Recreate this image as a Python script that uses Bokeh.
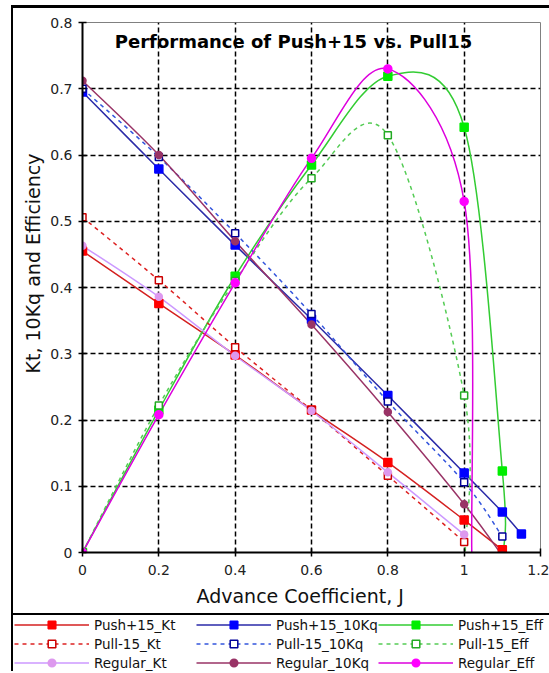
import numpy as np
from bokeh.plotting import figure
from bokeh.layouts import column
from bokeh.models import Range1d, FixedTicker, Label, Legend, LegendItem, Title
from bokeh.embed import file_html
from bokeh.resources import INLINE

# ---------------- data ----------------
x_ticks = [0, 0.2, 0.4, 0.6, 0.8, 1.0, 1.2]
y_ticks = [0, 0.1, 0.2, 0.3, 0.4, 0.5, 0.6, 0.7, 0.8]

push_kt_J = [0.0, 0.2, 0.4, 0.6, 0.8, 1.0, 1.1]
push_kt = [0.455, 0.376, 0.298, 0.215, 0.136, 0.049, 0.004]
pull_kt_J = [0.0, 0.2, 0.4, 0.6, 0.8, 1.0]
pull_kt = [0.506, 0.411, 0.310, 0.215, 0.116, 0.016]
regular_kt_J = [0.0, 0.2, 0.4, 0.6, 0.8, 1.0]
regular_kt = [0.463, 0.386, 0.297, 0.214, 0.121, 0.027]

push_kq_J = [0.0, 0.2, 0.4, 0.6, 0.8, 1.0, 1.1, 1.15]
push_kq = [0.695, 0.579, 0.464, 0.352, 0.237, 0.120, 0.061, 0.028]
pull_kq_J = [0.0, 0.2, 0.4, 0.6, 0.8, 1.0, 1.1]
pull_kq = [0.700, 0.597, 0.482, 0.360, 0.228, 0.106, 0.024]
regular_kq_J = [0.0, 0.2, 0.4, 0.6, 0.8, 1.0, 1.1]
regular_kq = [0.712, 0.600, 0.470, 0.344, 0.212, 0.073, -0.005]

push_eff_J = [0.0, 0.2, 0.4, 0.6, 0.8, 1.0, 1.1]
push_eff = [0.0, 0.215, 0.417, 0.585, 0.719, 0.642, 0.123]
push_eff_zero_J = 1.103          # where the curve reaches 0
pull_eff_J = [0.0, 0.2, 0.4, 0.6, 0.8, 1.0]
pull_eff = [0.0, 0.222, 0.410, 0.565, 0.630, 0.237]
pull_eff_zero_J = 1.003
regular_eff_J = [0.0, 0.2, 0.4, 0.6, 0.8, 1.0]
regular_eff = [0.0, 0.208, 0.407, 0.595, 0.730, 0.530]
regular_eff_zero_J = 1.02

# ---------------- main figure ----------------
p = figure(width=536, height=605, x_range=Range1d(0, 1.2), y_range=Range1d(0, 0.8),
           output_backend="svg", toolbar_location=None,
           min_border_left=69, min_border_right=9, min_border_top=14, min_border_bottom=61,
           background_fill_color="white", border_fill_color="white",
           outline_line_color="#808080", outline_line_width=1)
p.frame_align = False

for ax, ticks in ((p.xaxis, x_ticks), (p.yaxis, y_ticks)):
    ax.ticker = FixedTicker(ticks=ticks)
    ax.axis_line_color = "black"
    ax.axis_line_width = 2
    ax.major_tick_line_color = "black"
    ax.major_tick_line_width = 1.5
    ax.major_tick_in = 4
    ax.major_tick_out = 4
    ax.minor_tick_line_color = None
    ax.major_label_text_font = "DejaVu Sans"
    ax.major_label_text_font_size = "14px"
    ax.major_label_text_color = "#222222"
p.xaxis.major_label_overrides = {0: "0", 1: "1"}
p.yaxis.major_label_overrides = {0: "0"}
p.xaxis.major_label_standoff = 8
p.yaxis.major_label_standoff = 6

p.xgrid.ticker = FixedTicker(ticks=x_ticks[1:-1])
p.ygrid.ticker = FixedTicker(ticks=y_ticks[1:-1])
for g in (p.xgrid, p.ygrid):
    g.grid_line_color = "black"
    g.grid_line_dash = "5 3"
    g.grid_line_width = 1.5


def smooth(xs, ys):
    """Bezier control points of a Catmull-Rom style smoothed line through the data."""
    xs = np.asarray(xs, float)
    ys = np.asarray(ys, float)
    n = len(xs)
    px = np.concatenate([[xs[0]], xs, [xs[-1]]])
    py = np.concatenate([[ys[0]], ys, [ys[-1]]])
    return dict(
        x0=xs[:-1], y0=ys[:-1], x1=xs[1:], y1=ys[1:],
        cx0=xs[:-1] + (px[2:n + 1] - px[0:n - 1]) / 6.0,
        cy0=ys[:-1] + (py[2:n + 1] - py[0:n - 1]) / 6.0,
        cx1=xs[1:] - (px[3:n + 2] - px[1:n]) / 6.0,
        cy1=ys[1:] - (py[3:n + 2] - py[1:n]) / 6.0,
    )


series = [
    # label, J, values, line end (J,0) or None, line color, dash, marker, marker fill, marker line, size
    ("Push+15_Kt", push_kt_J, push_kt, None, "#d42020", "solid", "square", "#ff0000", "#ff0000", 8),
    ("Push+15_10Kq", push_kq_J, push_kq, None, "#2a2aa8", "solid", "square", "#0000ff", "#0000ff", 8),
    ("Push+15_Eff", push_eff_J, push_eff, push_eff_zero_J, "#33cc33", "solid", "square", "#00ee00", "#00ee00", 8),
    ("Pull-15_Kt", pull_kt_J, pull_kt, None, "#dd2222", "4 4", "square", "white", "#cc0000", 7),
    ("Pull-15_10Kq", pull_kq_J, pull_kq, None, "#3355dd", "4 4", "square", "white", "#000099", 7),
    ("Pull-15_Eff", pull_eff_J, pull_eff, pull_eff_zero_J, "#55cc55", "4 4", "square", "white", "#22aa22", 7),
    ("Regular_Kt", regular_kt_J, regular_kt, None, "#cc99ff", "solid", "circle", "#dd99ee", "#dd99ee", 7),
    ("Regular_10Kq", regular_kq_J, regular_kq, None, "#993366", "solid", "circle", "#993366", "#993366", 7),
    ("Regular_Eff", regular_eff_J, regular_eff, regular_eff_zero_J, "#dd00dd", "solid", "circle", "#ff00ff", "#ff00ff", 8),
]

for label, xs, ys, zero_j, lc, dash, mk, mf, ml, sz in series:
    lx, ly = list(xs), list(ys)
    if zero_j is not None:
        lx.append(zero_j)
        ly.append(0.0)
    p.bezier(line_color=lc, line_width=1.5, line_dash=dash, **smooth(lx, ly))

for label, xs, ys, zero_j, lc, dash, mk, mf, ml, sz in series:
    p.scatter(xs, ys, marker=mk, size=sz, fill_color=mf, line_color=ml, line_width=1.5)

# chart title (inside the plot area)
p.add_layout(Label(x=0.553, y=0.771, text="Performance of Push+15 vs. Pull15",
                   text_font="DejaVu Sans", text_font_style="bold", text_font_size="18px",
                   text_align="center", text_baseline="middle", text_color="black"))

# axis titles
p.add_layout(Title(text="Advance Coefficient, J", align="left", offset=114, standoff=10,
                   text_font="DejaVu Sans", text_font_size="19px", text_font_style="normal",
                   text_color="#111111"), "below")
p.add_layout(Title(text="Kt, 10Kq and Efficiency", align="left", offset=179, standoff=8,
                   text_font="DejaVu Sans", text_font_size="19px", text_font_style="normal",
                   text_color="#111111"), "left")

# ---------------- legend strip ----------------
pl = figure(width=536, height=58, x_range=Range1d(0, 1), y_range=Range1d(0, 1),
            output_backend="svg", toolbar_location=None,
            x_axis_location=None, y_axis_location=None,
            min_border=0, min_border_left=0, min_border_right=0,
            min_border_top=0, min_border_bottom=0,
            background_fill_color="white", border_fill_color="white",
            outline_line_color=None)
pl.frame_align = False
pl.xgrid.visible = False
pl.ygrid.visible = False
pl.styles = {"border-top": "2px solid black"}

nan = np.array([np.nan])
items = []
for label, xs, ys, zero_j, lc, dash, mk, mf, ml, sz in series:
    lr = pl.bezier(x0=nan, y0=nan, x1=nan, y1=nan, cx0=nan, cy0=nan, cx1=nan, cy1=nan,
                   line_color=lc, line_width=1.5, line_dash=dash)
    sr = pl.scatter(nan, nan, marker=mk, size=sz, fill_color=mf, line_color=ml, line_width=1.5)
    items.append(LegendItem(label=label, renderers=[lr, sr]))

legend = Legend(items=items, location=(1, 1), orientation="horizontal", ncols=3,
                glyph_width=75, glyph_height=19, label_height=19, label_width=102,
                label_standoff=5, spacing=0, padding=0, margin=0,
                border_line_color=None, background_fill_alpha=0,
                label_text_font="DejaVu Sans", label_text_font_size="13.5px",
                label_text_color="#111111")
pl.add_layout(legend)

layout = column(p, pl, spacing=0, margin=(5, 0, 0, 11),
                styles={"border-left": "2px solid black", "border-top": "3px solid black"})

open("out.html", "w").write(file_html(layout, INLINE))
